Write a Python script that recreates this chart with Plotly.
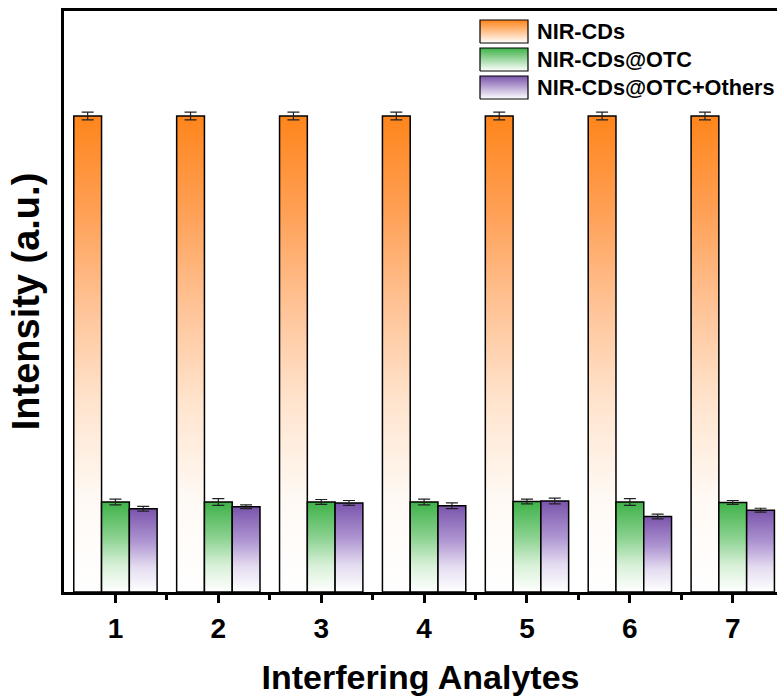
import plotly.graph_objects as go

categories = [1, 2, 3, 4, 5, 6, 7]
series_names = ["NIR-CDs", "NIR-CDs@OTC", "NIR-CDs@OTC+Others"]
nir_cds = [983, 983, 983, 983, 983, 983, 983]
nir_cds_err = [8, 8, 8, 8, 8, 8, 8]
nir_otc = [186, 186, 186, 186, 187, 186, 185]
nir_otc_err = [6, 7, 5, 6, 5, 7, 4]
nir_otc_others = [172, 176, 184, 178, 188, 156, 169]
nir_otc_others_err = [5, 4, 5, 6, 6, 5, 4]

values = [nir_cds, nir_otc, nir_otc_others]
errors = [nir_cds_err, nir_otc_err, nir_otc_others_err]

scales = [
    [[0, "rgb(255,255,255)"], [0.2, "rgb(255,249,244)"], [0.4, "rgb(255,228,205)"],
     [0.6, "rgb(255,195,150)"], [0.8, "rgb(255,160,85)"], [1, "rgb(255,133,27)"]],
    [[0, "rgb(255,255,255)"], [0.3, "rgb(215,240,215)"], [0.6, "rgb(140,210,145)"],
     [1, "rgb(62,178,72)"]],
    [[0, "rgb(255,255,255)"], [0.3, "rgb(228,220,240)"], [0.6, "rgb(175,150,210)"],
     [1, "rgb(122,84,172)"]],
]

BAR_W = 0.27
offsets = [-BAR_W, 0.0, BAR_W]

fig = go.Figure()

for s in range(3):
    for i, c in enumerate(categories):
        xc = c + offsets[s]
        x0, x1 = xc - BAR_W / 2, xc + BAR_W / 2
        v = values[s][i]
        fig.add_trace(go.Scatter(
            x=[x0, x0, x1, x1, x0], y=[0, v, v, 0, 0],
            mode="lines", fill="toself",
            line=dict(color="black", width=1.5),
            fillgradient=dict(type="vertical", colorscale=scales[s], start=0, stop=v),
            showlegend=False, hoverinfo="skip",
        ))

for s in range(3):
    fig.add_trace(go.Scatter(
        x=[c + offsets[s] for c in categories], y=values[s],
        mode="markers", marker=dict(size=1, color="rgba(0,0,0,0)"),
        error_y=dict(type="data", array=errors[s], visible=True,
                     color="#222222", thickness=1.2, width=6),
        showlegend=False, hoverinfo="skip",
    ))

# manual legend in a pixel-mapped overlay axis
LX0, LX1 = 480, 528
LY0 = 20
LH = 23
LSTEP = 28
for s in range(3):
    y0 = LY0 + s * LSTEP
    y1 = y0 + LH
    fig.add_trace(go.Scatter(
        x=[LX0, LX0, LX1, LX1, LX0], y=[y1, y0, y0, y1, y1],
        xaxis="x2", yaxis="y2",
        mode="lines", fill="toself",
        line=dict(color="black", width=1.2),
        fillgradient=dict(type="vertical", colorscale=[[0, scales[s][-1][1]], [1, "rgb(255,255,255)"]],
                          start=y0, stop=y1),
        showlegend=False, hoverinfo="skip",
    ))
    fig.add_annotation(x=LX1 + 7, y=(y0 + y1) / 2, xref="x2", yref="y2",
                       text="<b>%s</b>" % series_names[s], showarrow=False,
                       xanchor="left", yanchor="middle",
                       font=dict(family="Liberation Sans, Arial", size=21.7, color="black"))

fig.update_layout(
    width=777, height=700,
    margin=dict(l=64, r=0, t=11, b=108),
    paper_bgcolor="white", plot_bgcolor="white",
    font=dict(family="Liberation Sans, Arial", color="black"),
    showlegend=False,
    xaxis=dict(
        range=[0.5, 7.43], tickmode="array", tickvals=categories,
        ticktext=["<b>%d</b>" % c for c in categories],
        ticks="outside", ticklen=8, tickwidth=2.5, tickcolor="black",
        minor=dict(tickmode="array", tickvals=[c + 0.5 for c in categories],
                   ticks="outside", ticklen=5, tickwidth=2.5, tickcolor="black"),
        tickfont=dict(size=28), ticklabelstandoff=2,
        showline=True, linewidth=2.5, linecolor="black", mirror=True,
        showgrid=False, zeroline=False,
        title=dict(text="<b>Interfering Analytes</b>", font=dict(size=34), standoff=22),
    ),
    yaxis=dict(
        range=[0, 1200], showticklabels=False, ticks="",
        showline=True, linewidth=2.5, linecolor="black", mirror=False,
        showgrid=False, zeroline=False,
        title=dict(text="<b>Intensity (a.u.)</b>", font=dict(size=38), standoff=10),
    ),
    xaxis2=dict(overlaying="x", range=[64, 777], visible=False),
    yaxis2=dict(overlaying="y", range=[592, 11], visible=False),
)

fig.write_html("out.html")
